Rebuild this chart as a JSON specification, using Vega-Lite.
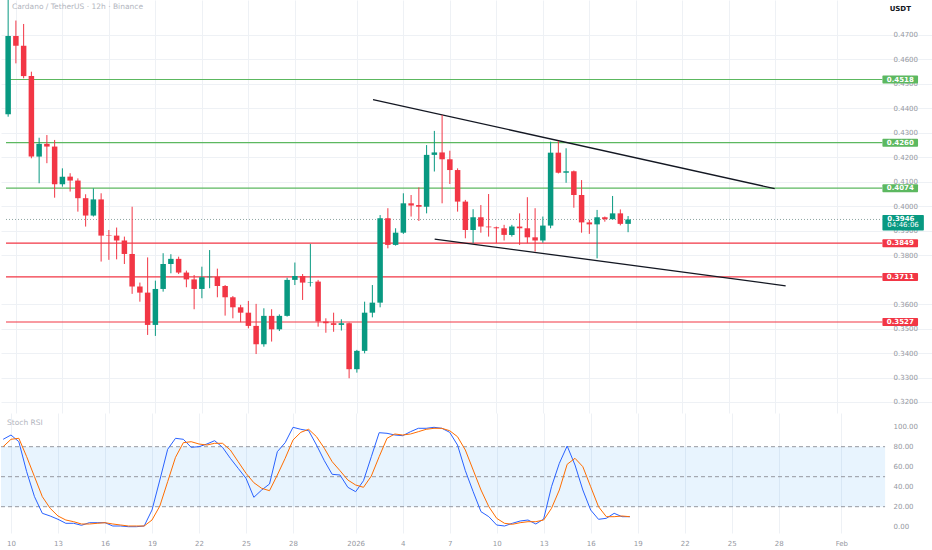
{
  "$schema": "https://vega.github.io/schema/vega-lite/v6.json",
  "padding": 0,
  "spacing": 0,
  "background": "#ffffff",
  "config": {
    "view": {"stroke": null},
    "font": "DejaVu Sans",
    "axis": {"labelFont": "DejaVu Sans", "labelFontSize": 7, "labelColor": "#9598a1", "gridColor": "#eef1f5", "gridWidth": 1, "domain": false, "ticks": false, "title": null, "zindex": 0, "labelOverlap": false}
  },
  "datasets": {
    "candles": [
      {"t":"2025-12-09T12:00Z","o":0.4376,"h":0.4850,"l":0.4366,"c":0.4696,"k":87.4,"d":80},
      {"t":"2025-12-10T00:00Z","o":0.4696,"h":0.4759,"l":0.4584,"c":0.4656,"k":91.7,"d":87.4},
      {"t":"2025-12-10T12:00Z","o":0.4656,"h":0.4745,"l":0.4523,"c":0.4532,"k":85,"d":88.4},
      {"t":"2025-12-11T00:00Z","o":0.4532,"h":0.4550,"l":0.4196,"c":0.4203,"k":55,"d":70},
      {"t":"2025-12-11T12:00Z","o":0.4203,"h":0.4280,"l":0.4094,"c":0.4255,"k":30,"d":50},
      {"t":"2025-12-12T00:00Z","o":0.4255,"h":0.4291,"l":0.4176,"c":0.4244,"k":13.4,"d":30},
      {"t":"2025-12-12T12:00Z","o":0.4244,"h":0.4271,"l":0.4035,"c":0.4090,"k":10.7,"d":18.4},
      {"t":"2025-12-13T00:00Z","o":0.4090,"h":0.4155,"l":0.4080,"c":0.4121,"k":7.4,"d":10.7},
      {"t":"2025-12-13T12:00Z","o":0.4121,"h":0.4135,"l":0.4060,"c":0.4105,"k":3.4,"d":6.7},
      {"t":"2025-12-14T00:00Z","o":0.4105,"h":0.4114,"l":0.3978,"c":0.4033,"k":3.4,"d":5},
      {"t":"2025-12-14T12:00Z","o":0.4033,"h":0.4049,"l":0.3917,"c":0.3962,"k":1.4,"d":2.7},
      {"t":"2025-12-15T00:00Z","o":0.3962,"h":0.4073,"l":0.3958,"c":0.4028,"k":4,"d":2.7},
      {"t":"2025-12-15T12:00Z","o":0.4028,"h":0.4053,"l":0.3774,"c":0.3880,"k":4,"d":3.4},
      {"t":"2025-12-16T00:00Z","o":0.3882,"h":0.3903,"l":0.3781,"c":0.3880,"k":4,"d":4},
      {"t":"2025-12-16T12:00Z","o":0.3880,"h":0.3913,"l":0.3783,"c":0.3860,"k":0.7,"d":2.7},
      {"t":"2025-12-17T00:00Z","o":0.3860,"h":0.3876,"l":0.3764,"c":0.3805,"k":0.7,"d":1.7},
      {"t":"2025-12-17T12:00Z","o":0.3805,"h":0.3998,"l":0.3642,"c":0.3672,"k":0,"d":0.7},
      {"t":"2025-12-18T00:00Z","o":0.3672,"h":0.3688,"l":0.3610,"c":0.3647,"k":0,"d":0.7},
      {"t":"2025-12-18T12:00Z","o":0.3647,"h":0.3791,"l":0.3474,"c":0.3515,"k":0.7,"d":0.7},
      {"t":"2025-12-19T00:00Z","o":0.3515,"h":0.3696,"l":0.3470,"c":0.3662,"k":16.7,"d":6.7},
      {"t":"2025-12-19T12:00Z","o":0.3662,"h":0.3808,"l":0.3651,"c":0.3764,"k":46.7,"d":20.7},
      {"t":"2025-12-20T00:00Z","o":0.3764,"h":0.3804,"l":0.3726,"c":0.3785,"k":77.4,"d":45},
      {"t":"2025-12-20T12:00Z","o":0.3785,"h":0.3794,"l":0.3723,"c":0.3729,"k":88.4,"d":69.4},
      {"t":"2025-12-21T00:00Z","o":0.3729,"h":0.3737,"l":0.3669,"c":0.3701,"k":87.4,"d":84},
      {"t":"2025-12-21T12:00Z","o":0.3701,"h":0.3719,"l":0.3579,"c":0.3662,"k":79.4,"d":85},
      {"t":"2025-12-22T00:00Z","o":0.3662,"h":0.3753,"l":0.3624,"c":0.3710,"k":80,"d":82.7},
      {"t":"2025-12-22T12:00Z","o":0.3710,"h":0.3821,"l":0.3665,"c":0.3712,"k":82.7,"d":81.7},
      {"t":"2025-12-23T00:00Z","o":0.3712,"h":0.3745,"l":0.3628,"c":0.3674,"k":86,"d":83.4},
      {"t":"2025-12-23T12:00Z","o":0.3674,"h":0.3678,"l":0.3553,"c":0.3628,"k":79.4,"d":83.4},
      {"t":"2025-12-24T00:00Z","o":0.3628,"h":0.3633,"l":0.3542,"c":0.3587,"k":68.4,"d":76.7},
      {"t":"2025-12-24T12:00Z","o":0.3587,"h":0.3597,"l":0.3526,"c":0.3565,"k":58.4,"d":65},
      {"t":"2025-12-25T00:00Z","o":0.3565,"h":0.3613,"l":0.3501,"c":0.3511,"k":48.4,"d":53.4},
      {"t":"2025-12-25T12:00Z","o":0.3511,"h":0.3601,"l":0.3396,"c":0.3436,"k":29.4,"d":44},
      {"t":"2025-12-26T00:00Z","o":0.3436,"h":0.3583,"l":0.3426,"c":0.3552,"k":36.7,"d":38.4},
      {"t":"2025-12-26T12:00Z","o":0.3552,"h":0.3579,"l":0.3447,"c":0.3497,"k":42.7,"d":36},
      {"t":"2025-12-27T00:00Z","o":0.3497,"h":0.3558,"l":0.3490,"c":0.3552,"k":75,"d":51.7},
      {"t":"2025-12-27T12:00Z","o":0.3552,"h":0.3708,"l":0.3549,"c":0.3699,"k":84,"d":68.4},
      {"t":"2025-12-28T00:00Z","o":0.3699,"h":0.3770,"l":0.3678,"c":0.3715,"k":99.4,"d":86.7},
      {"t":"2025-12-28T12:00Z","o":0.3715,"h":0.3723,"l":0.3617,"c":0.3688,"k":97.4,"d":94.4},
      {"t":"2025-12-29T00:00Z","o":0.3688,"h":0.3846,"l":0.3672,"c":0.3690,"k":96,"d":97.4},
      {"t":"2025-12-29T12:00Z","o":0.3692,"h":0.3699,"l":0.3508,"c":0.3529,"k":81.7,"d":90},
      {"t":"2025-12-30T00:00Z","o":0.3529,"h":0.3542,"l":0.3483,"c":0.3522,"k":66,"d":78.4},
      {"t":"2025-12-30T12:00Z","o":0.3522,"h":0.3565,"l":0.3487,"c":0.3515,"k":52.4,"d":65},
      {"t":"2025-12-31T00:00Z","o":0.3515,"h":0.3538,"l":0.3492,"c":0.3522,"k":51.7,"d":56},
      {"t":"2025-12-31T12:00Z","o":0.3522,"h":0.3525,"l":0.3297,"c":0.3334,"k":39.4,"d":46.7},
      {"t":"2026-01-01T00:00Z","o":0.3334,"h":0.3413,"l":0.3320,"c":0.3409,"k":35,"d":41.7},
      {"t":"2026-01-01T12:00Z","o":0.3409,"h":0.3610,"l":0.3399,"c":0.3565,"k":46,"d":39.4},
      {"t":"2026-01-02T00:00Z","o":0.3565,"h":0.3678,"l":0.3546,"c":0.3606,"k":70,"d":50.7},
      {"t":"2026-01-02T12:00Z","o":0.3606,"h":0.3964,"l":0.3587,"c":0.3951,"k":94,"d":70},
      {"t":"2026-01-03T00:00Z","o":0.3951,"h":0.3992,"l":0.3828,"c":0.3842,"k":93.4,"d":88.4},
      {"t":"2026-01-03T12:00Z","o":0.3842,"h":0.3910,"l":0.3839,"c":0.3892,"k":91.7,"d":92.7},
      {"t":"2026-01-04T00:00Z","o":0.3892,"h":0.4053,"l":0.3887,"c":0.4012,"k":91,"d":91.7},
      {"t":"2026-01-04T12:00Z","o":0.4012,"h":0.4046,"l":0.3958,"c":0.4003,"k":95,"d":92.7},
      {"t":"2026-01-05T00:00Z","o":0.4005,"h":0.4077,"l":0.3940,"c":0.3998,"k":98.4,"d":95},
      {"t":"2026-01-05T12:00Z","o":0.3998,"h":0.4250,"l":0.3971,"c":0.4210,"k":98.4,"d":97.4},
      {"t":"2026-01-06T00:00Z","o":0.4210,"h":0.4308,"l":0.4142,"c":0.4220,"k":99.4,"d":98.4},
      {"t":"2026-01-06T12:00Z","o":0.4220,"h":0.4373,"l":0.4012,"c":0.4192,"k":98.4,"d":98.4},
      {"t":"2026-01-07T00:00Z","o":0.4192,"h":0.4227,"l":0.4091,"c":0.4148,"k":94.4,"d":96},
      {"t":"2026-01-07T12:00Z","o":0.4148,"h":0.4155,"l":0.3978,"c":0.4019,"k":81.7,"d":90},
      {"t":"2026-01-08T00:00Z","o":0.4019,"h":0.4026,"l":0.3869,"c":0.3903,"k":56,"d":76.7},
      {"t":"2026-01-08T12:00Z","o":0.3903,"h":0.3988,"l":0.3849,"c":0.3955,"k":35,"d":56.7},
      {"t":"2026-01-09T00:00Z","o":0.3955,"h":0.4005,"l":0.3892,"c":0.3917,"k":15,"d":36.7},
      {"t":"2026-01-09T12:00Z","o":0.3917,"h":0.4050,"l":0.3876,"c":0.3914,"k":10,"d":20},
      {"t":"2026-01-10T00:00Z","o":0.3914,"h":0.3917,"l":0.3849,"c":0.3910,"k":1.7,"d":8.4},
      {"t":"2026-01-10T12:00Z","o":0.3910,"h":0.3924,"l":0.3860,"c":0.3883,"k":0.7,"d":3.4},
      {"t":"2026-01-11T00:00Z","o":0.3883,"h":0.3924,"l":0.3876,"c":0.3917,"k":3.4,"d":2.4},
      {"t":"2026-01-11T12:00Z","o":0.3917,"h":0.3971,"l":0.3842,"c":0.3910,"k":5.7,"d":4},
      {"t":"2026-01-12T00:00Z","o":0.3910,"h":0.4037,"l":0.3849,"c":0.3873,"k":6.7,"d":5},
      {"t":"2026-01-12T12:00Z","o":0.3873,"h":0.3992,"l":0.3815,"c":0.3860,"k":2.7,"d":5},
      {"t":"2026-01-13T00:00Z","o":0.3860,"h":0.3958,"l":0.3851,"c":0.3921,"k":7.7,"d":6.7},
      {"t":"2026-01-13T12:00Z","o":0.3921,"h":0.4264,"l":0.3910,"c":0.4219,"k":40,"d":18.4},
      {"t":"2026-01-14T00:00Z","o":0.4219,"h":0.4267,"l":0.4134,"c":0.4137,"k":63.4,"d":36.7},
      {"t":"2026-01-14T12:00Z","o":0.4137,"h":0.4237,"l":0.4096,"c":0.4143,"k":80.7,"d":62.4},
      {"t":"2026-01-15T00:00Z","o":0.4143,"h":0.4146,"l":0.3994,"c":0.4046,"k":61.7,"d":68.4},
      {"t":"2026-01-15T12:00Z","o":0.4046,"h":0.4107,"l":0.3892,"c":0.3934,"k":36.7,"d":60},
      {"t":"2026-01-16T00:00Z","o":0.3934,"h":0.3944,"l":0.3887,"c":0.3926,"k":16.7,"d":40},
      {"t":"2026-01-16T12:00Z","o":0.3926,"h":0.3985,"l":0.3787,"c":0.3955,"k":7.4,"d":20},
      {"t":"2026-01-17T00:00Z","o":0.3955,"h":0.3958,"l":0.3937,"c":0.3947,"k":8.4,"d":10},
      {"t":"2026-01-17T12:00Z","o":0.3947,"h":0.4042,"l":0.3947,"c":0.3971,"k":13.4,"d":10},
      {"t":"2026-01-18T00:00Z","o":0.3971,"h":0.3987,"l":0.3922,"c":0.3928,"k":10,"d":10.7},
      {"t":"2026-01-18T12:00Z","o":0.3928,"h":0.3960,"l":0.3894,"c":0.3946,"k":10,"d":10}
    ],
    "levels": [
      {"v":0.4518,"kind":"resistance"},
      {"v":0.4260,"kind":"resistance"},
      {"v":0.4074,"kind":"resistance"},
      {"v":0.3849,"kind":"support"},
      {"v":0.3711,"kind":"support"},
      {"v":0.3527,"kind":"support"}
    ],
    "trend": [
      {"line":"upper","t":"2026-01-02T01:00Z","v":0.4436},
      {"line":"upper","t":"2026-01-27T23:00Z","v":0.4072},
      {"line":"lower","t":"2026-01-06T00:30Z","v":0.3866},
      {"line":"lower","t":"2026-01-28T16:00Z","v":0.3675}
    ],
    "stochLevels": [{"v":80},{"v":50},{"v":20}]
  },
  "vconcat": [
    {
      "width": 932,
      "height": 413,
      "layer": [
        {
          "data": {"name": "levels"},
          "mark": {"type": "rule", "strokeWidth": 1.2},
          "encoding": {
            "x": {"datum": {"year":2025,"month":12,"date":9,"hours":8,"minutes":41,"utc":true}, "type": "temporal"},
            "x2": {"datum": {"year":2026,"month":2,"date":3,"hours":21,"minutes":50,"utc":true}},
            "y": {"field": "v", "type": "quantitative"},
            "color": {"field": "kind", "type": "nominal", "scale": {"domain": ["resistance","support"], "range": ["#5cb860","#f23645"]}, "legend": null}
          }
        },
        {
          "data": {"values": [{}]},
          "mark": {"type": "rule", "strokeWidth": 1, "strokeDash": [1,2], "color": "#8fa6a2"},
          "encoding": {
            "x": {"datum": {"year":2025,"month":12,"date":9,"hours":8,"minutes":41,"utc":true}, "type": "temporal"},
            "x2": {"datum": {"year":2026,"month":2,"date":3,"hours":21,"minutes":50,"utc":true}},
            "y": {"datum": 0.3946, "type": "quantitative"}
          }
        },
        {
          "data": {"name": "trend"},
          "mark": {"type": "line", "color": "#131722", "strokeWidth": 1.3},
          "encoding": {
            "x": {"field": "t", "type": "temporal"},
            "y": {"field": "v", "type": "quantitative"},
            "detail": {"field": "line"}
          }
        },
        {
          "data": {"name": "candles"},
          "mark": {"type": "rule", "strokeWidth": 1, "clip": true},
          "encoding": {
            "x": {"field": "t", "type": "temporal",
              "scale": {"type": "utc", "domain": [{"year":2025,"month":12,"date":9,"hours":8,"minutes":41,"utc":true},{"year":2026,"month":2,"date":6,"hours":20,"minutes":25,"utc":true}]},
              "axis": {"labels": false, "grid": true, "tickCount": 40,
                "values": [
                  {"year":2025,"month":12,"date":10,"utc":true},{"year":2025,"month":12,"date":13,"utc":true},{"year":2025,"month":12,"date":16,"utc":true},{"year":2025,"month":12,"date":19,"utc":true},{"year":2025,"month":12,"date":22,"utc":true},{"year":2025,"month":12,"date":25,"utc":true},{"year":2025,"month":12,"date":28,"utc":true},
                  {"year":2026,"month":1,"date":1,"utc":true},{"year":2026,"month":1,"date":4,"utc":true},{"year":2026,"month":1,"date":7,"utc":true},{"year":2026,"month":1,"date":10,"utc":true},{"year":2026,"month":1,"date":13,"utc":true},{"year":2026,"month":1,"date":16,"utc":true},{"year":2026,"month":1,"date":19,"utc":true},{"year":2026,"month":1,"date":22,"utc":true},{"year":2026,"month":1,"date":25,"utc":true},{"year":2026,"month":1,"date":28,"utc":true},{"year":2026,"month":2,"date":1,"utc":true}
                ]}},
            "y": {"field": "l", "type": "quantitative",
              "scale": {"domain": [0.3155, 0.4843], "nice": false, "zero": false},
              "axis": {"orient": "right", "grid": true, "format": ".4f", "labelPadding": -40, "tickSize": 0, "labelOverlap": false, "labelFlush": false, "tickCount": 40,
                "values": [0.32,0.33,0.34,0.35,0.36,0.38,0.39,0.40,0.41,0.42,0.43,0.44,0.45,0.46,0.47]}},
            "y2": {"field": "h"},
            "color": {"condition": {"test": "datum.c >= datum.o", "value": "#089981"}, "value": "#f23645"}
          }
        },
        {
          "data": {"name": "candles"},
          "mark": {"type": "bar", "width": 5.5, "clip": true},
          "encoding": {
            "x": {"field": "t", "type": "temporal"},
            "y": {"field": "o", "type": "quantitative"},
            "y2": {"field": "c"},
            "color": {"condition": {"test": "datum.c >= datum.o", "value": "#089981"}, "value": "#f23645"}
          }
        },
        {
          "data": {"name": "levels"},
          "mark": {"type": "rect", "yOffset": -4, "y2Offset": 4, "cornerRadius": 1},
          "encoding": {
            "x": {"datum": {"year":2026,"month":2,"date":3,"hours":21,"minutes":50,"utc":true}, "type": "temporal"},
            "x2": {"datum": {"year":2026,"month":2,"date":6,"hours":5,"minutes":0,"utc":true}},
            "y": {"field": "v", "type": "quantitative"},
            "y2": {"field": "v"},
            "color": {"field": "kind", "type": "nominal", "legend": null}
          }
        },
        {
          "data": {"name": "levels"},
          "mark": {"type": "text", "color": "#ffffff", "fontSize": 7, "fontWeight": "bold", "align": "center", "baseline": "middle"},
          "encoding": {
            "x": {"datum": {"year":2026,"month":2,"date":5,"hours":1,"minutes":30,"utc":true}, "type": "temporal"},
            "y": {"field": "v", "type": "quantitative"},
            "text": {"field": "v", "type": "quantitative", "format": ".4f"}
          }
        },
        {
          "data": {"values": [{}]},
          "mark": {"type": "rect", "color": "#089981", "yOffset": -4.5, "y2Offset": 11, "cornerRadius": 1},
          "encoding": {
            "x": {"datum": {"year":2026,"month":2,"date":3,"hours":21,"minutes":50,"utc":true}, "type": "temporal"},
            "x2": {"datum": {"year":2026,"month":2,"date":6,"hours":14,"minutes":0,"utc":true}},
            "y": {"datum": 0.3946, "type": "quantitative"},
            "y2": {"datum": 0.3946}
          }
        },
        {
          "data": {"values": [{}]},
          "mark": {"type": "text", "text": "0.3946", "color": "#ffffff", "fontSize": 7, "fontWeight": "bold", "align": "left", "baseline": "middle", "dy": -0.5},
          "encoding": {
            "x": {"datum": {"year":2026,"month":2,"date":4,"hours":5,"minutes":30,"utc":true}, "type": "temporal"},
            "y": {"datum": 0.3946, "type": "quantitative"}
          }
        },
        {
          "data": {"values": [{}]},
          "mark": {"type": "text", "text": "04:46:06", "color": "#ffffff", "fontSize": 7, "align": "left", "baseline": "middle", "dy": 6},
          "encoding": {
            "x": {"datum": {"year":2026,"month":2,"date":4,"hours":5,"minutes":30,"utc":true}, "type": "temporal"},
            "y": {"datum": 0.3946, "type": "quantitative"}
          }
        },
        {
          "data": {"values": [{}]},
          "mark": {"type": "text", "text": "Cardano / TetherUS · 12h · Binance", "color": "#b2b5be", "fontSize": 7.5, "align": "left", "baseline": "middle", "dx": 6, "dy": 7},
          "encoding": {
            "x": {"datum": {"year":2025,"month":12,"date":9,"hours":8,"minutes":41,"utc":true}, "type": "temporal"},
            "y": {"datum": 0.4843, "type": "quantitative"}
          }
        },
        {
          "data": {"values": [{}]},
          "mark": {"type": "text", "text": "USDT", "color": "#131722", "fontSize": 7, "fontWeight": "bold", "align": "center", "baseline": "middle", "dy": 9},
          "encoding": {
            "x": {"datum": {"year":2026,"month":2,"date":5,"hours":1,"minutes":30,"utc":true}, "type": "temporal"},
            "y": {"datum": 0.4843, "type": "quantitative"}
          }
        }
      ]
    },
    {
      "width": 932,
      "height": 120,
      "layer": [
        {
          "data": {"values": [{}]},
          "mark": {"type": "rect", "color": "#2196f3", "opacity": 0.1},
          "encoding": {
            "x": {"datum": {"year":2025,"month":12,"date":9,"hours":8,"minutes":41,"utc":true}, "type": "temporal",
              "scale": {"type": "utc", "domain": [{"year":2025,"month":12,"date":9,"hours":8,"minutes":41,"utc":true},{"year":2026,"month":2,"date":6,"hours":20,"minutes":25,"utc":true}]},
              "axis": {"grid": true, "labelPadding": 6, "labelColor": "#9598a1", "labelOverlap": false, "labelFlush": false, "tickCount": 40,
                "values": [
                  {"year":2025,"month":12,"date":10,"utc":true},{"year":2025,"month":12,"date":13,"utc":true},{"year":2025,"month":12,"date":16,"utc":true},{"year":2025,"month":12,"date":19,"utc":true},{"year":2025,"month":12,"date":22,"utc":true},{"year":2025,"month":12,"date":25,"utc":true},{"year":2025,"month":12,"date":28,"utc":true},
                  {"year":2026,"month":1,"date":1,"utc":true},{"year":2026,"month":1,"date":4,"utc":true},{"year":2026,"month":1,"date":7,"utc":true},{"year":2026,"month":1,"date":10,"utc":true},{"year":2026,"month":1,"date":13,"utc":true},{"year":2026,"month":1,"date":16,"utc":true},{"year":2026,"month":1,"date":19,"utc":true},{"year":2026,"month":1,"date":22,"utc":true},{"year":2026,"month":1,"date":25,"utc":true},{"year":2026,"month":1,"date":28,"utc":true},{"year":2026,"month":2,"date":1,"utc":true}
                ],
                "labelExpr": "utcdate(datum.value) == 1 ? (utcmonth(datum.value) == 0 ? '2026' : 'Feb') : '' + utcdate(datum.value)"}},
            "x2": {"datum": {"year":2026,"month":2,"date":3,"hours":19,"minutes":0,"utc":true}},
            "y": {"datum": 20, "type": "quantitative",
              "scale": {"domain": [-6.3, 113.7], "nice": false, "zero": false},
              "axis": {"orient": "right", "grid": false, "format": ".2f", "labelPadding": -40, "tickSize": 0, "labelOverlap": false, "labelFlush": false, "tickCount": 20, "values": [0,20,40,60,80,100]}},
            "y2": {"datum": 80}
          }
        },
        {
          "data": {"name": "stochLevels"},
          "mark": {"type": "rule", "color": "#9598a1", "strokeDash": [4,3], "strokeWidth": 1},
          "encoding": {
            "x": {"datum": {"year":2025,"month":12,"date":9,"hours":8,"minutes":41,"utc":true}, "type": "temporal"},
            "x2": {"datum": {"year":2026,"month":2,"date":3,"hours":19,"minutes":0,"utc":true}},
            "y": {"field": "v", "type": "quantitative"}
          }
        },
        {
          "data": {"name": "candles"},
          "mark": {"type": "line", "color": "#2962ff", "strokeWidth": 1},
          "encoding": {
            "x": {"field": "t", "type": "temporal"},
            "y": {"field": "k", "type": "quantitative"}
          }
        },
        {
          "data": {"name": "candles"},
          "mark": {"type": "line", "color": "#ff6d00", "strokeWidth": 1},
          "encoding": {
            "x": {"field": "t", "type": "temporal"},
            "y": {"field": "d", "type": "quantitative"}
          }
        },
        {
          "data": {"values": [{}]},
          "mark": {"type": "text", "text": "Stoch RSI", "color": "#b2b5be", "fontSize": 7.5, "align": "left", "baseline": "middle", "dx": 6, "dy": 10},
          "encoding": {
            "x": {"datum": {"year":2025,"month":12,"date":9,"hours":8,"minutes":41,"utc":true}, "type": "temporal"},
            "y": {"datum": 113.7, "type": "quantitative"}
          }
        }
      ]
    }
  ]
}
